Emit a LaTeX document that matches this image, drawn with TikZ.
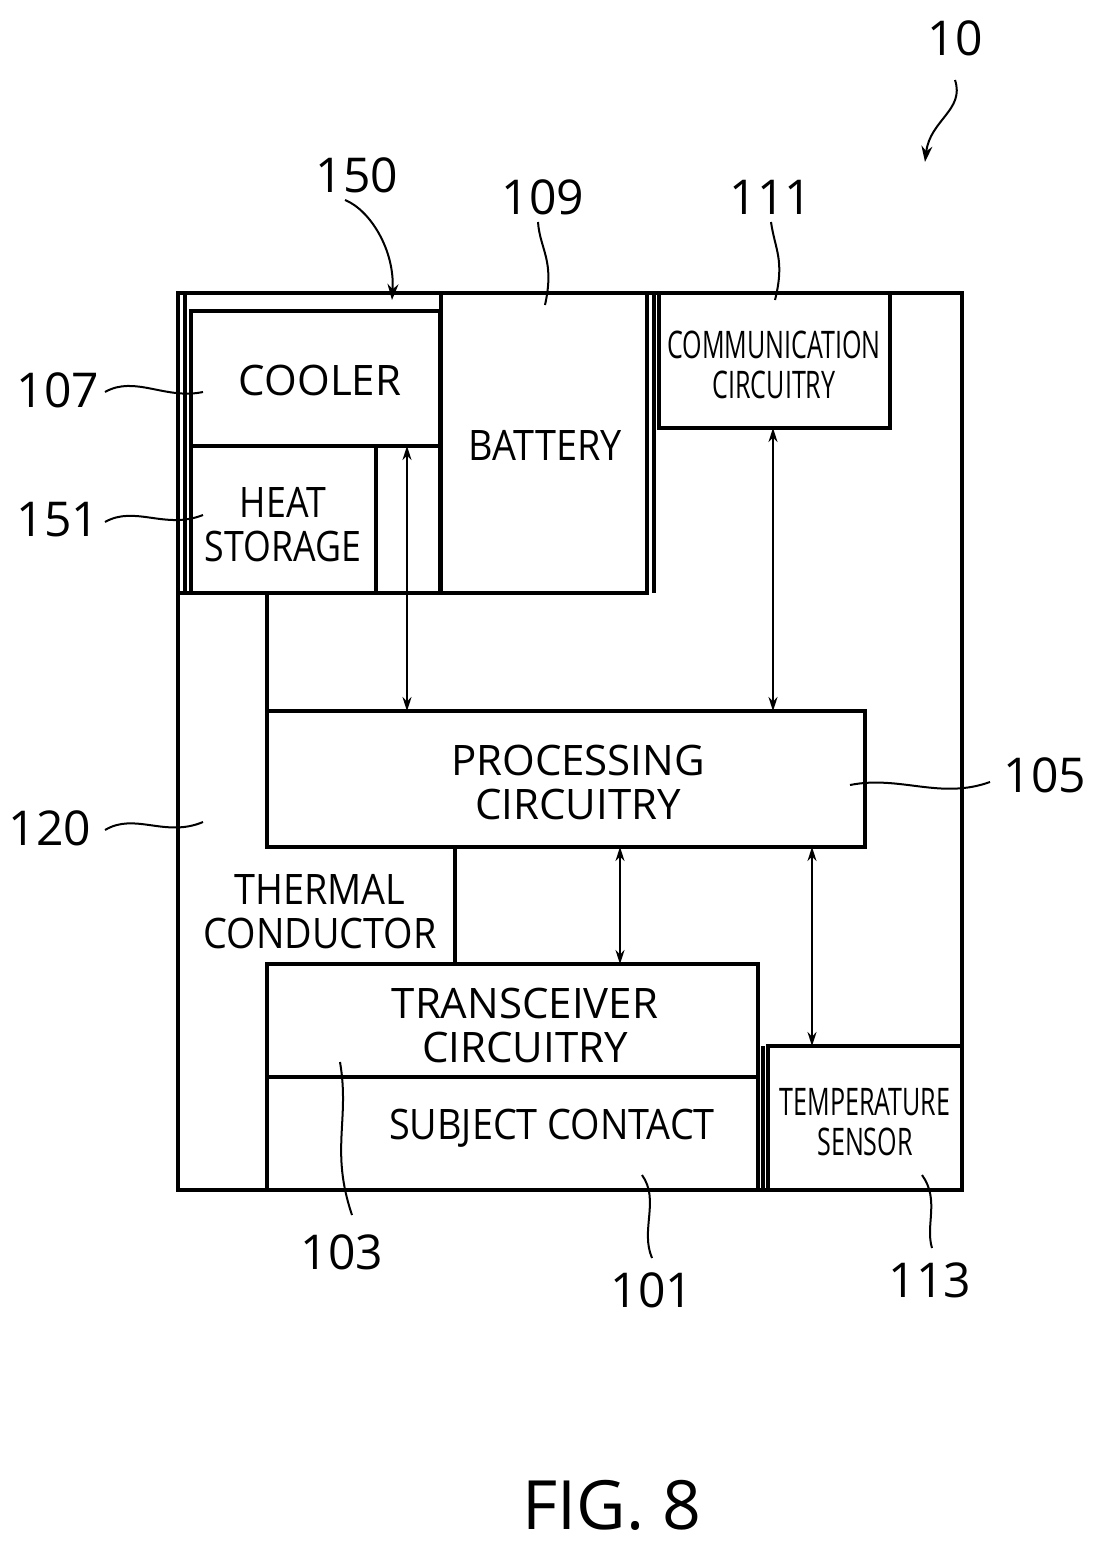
\documentclass[tikz,border=0pt]{standalone}
\usepackage{fontspec}
\usetikzlibrary{arrows.meta}
\setmainfont{Open Sans}
\begin{document}
\begin{tikzpicture}[x=1pt,y=-1pt,line width=3.5pt,
 lbl/.style={font=\fontsize{42}{44}\selectfont,inner sep=0pt},
 num/.style={font=\fontsize{48}{48}\selectfont},
 small/.style={font=\fontsize{38}{40}\selectfont,inner sep=0pt},
 lead/.style={line width=2pt},
 arr/.style={line width=2pt,{Stealth[length=14pt,width=9pt]}-{Stealth[length=14pt,width=9pt]}}]
\useasboundingbox (0,0) rectangle (1097,1558);
\draw (178,293) rectangle (962,1190);
\draw (185,293) -- (185,593);
\draw (191,311) rectangle (440,446);
\draw (191,446) rectangle (376,593);
\draw (440,446) -- (440,593);
\draw (441,293) rectangle (647,593);
\draw (654,293) -- (654,593);
\draw (659,293) rectangle (890,428);
\draw (178,593) -- (647,593);
\draw (267,593) -- (267,711);
\draw (267,711) rectangle (865,847);
\draw (455,847) -- (455,964);
\draw (267,964) rectangle (758,1077);
\draw (267,1077) rectangle (758,1190);
\draw (763,1046) -- (763,1190);
\draw (768,1046) rectangle (962,1190);
% texts
\node[lbl] (cool) at (320,380) {COOLER};
\node[lbl,align=center] (heat) at (283,525) {\scalebox{0.85}[1]{HEAT}\\\scalebox{0.85}[1]{STORAGE}};
\node[lbl] (bat) at (545,445) {\scalebox{0.9}[1]{BATTERY}};
\node[small,align=center] (comm) at (774,365) {\scalebox{0.66}[1]{COMMUNICATION}\\\scalebox{0.66}[1]{CIRCUITRY}};
\node[lbl,align=center] (proc) at (578,782) {PROCESSING\\CIRCUITRY};
\node[lbl,align=center] (therm) at (320,912) {\scalebox{0.9}[1]{THERMAL}\\\scalebox{0.9}[1]{CONDUCTOR}};
\node[lbl,align=center] (trans) at (525,1025) {TRANSCEIVER\\CIRCUITRY};
\node[lbl] (subj) at (552,1128) {\scalebox{0.9}[1]{SUBJECT CONTACT}};
\node[small,align=center] (temp) at (865,1122) {\scalebox{0.66}[1]{TEMPERATURE}\\\scalebox{0.66}[1]{SENSOR}};
% arrows
\coordinate (a1) at (407,446); \coordinate (a2) at (407,711);
\coordinate (b1) at (773,428); \coordinate (b2) at (773,711);
\coordinate (c1) at (620,847); \coordinate (c2) at (620,964);
\coordinate (d1) at (812,847); \coordinate (d2) at (812,1046);
\draw[arr] (a1) -- (a2);
\draw[arr] (b1) -- (b2);
\draw[arr] (c1) -- (c2);
\draw[arr] (d1) -- (d2);
% numbers
\node[num] (n10) at (955,38) {10};
\node[num] (n150) at (357,175) {150};
\node[num] (n109) at (543,197) {109};
\node[num] (n111) at (771,197) {111};
\node[num] (n107) at (58,390) {107};
\node[num] (n151) at (58,520) {151};
\node[num] (n120) at (50,828) {120};
\node[num] (n105) at (1045,775) {105};
\node[num] (n103) at (342,1252) {103};
\node[num] (n101) at (652,1290) {101};
\node[num] (n113) at (930,1280) {113};
\node[font=\fontsize{68}{68}\selectfont] (fig) at (612,1505) {FIG. 8};
% leaders
\draw[lead,-{Stealth[length=16pt,width=11pt]}] (955,80) .. controls (965,110) and (930,120) .. (925,162);
\draw[lead,-{Stealth[length=16pt,width=11pt]}] (345,200) .. controls (370,210) and (395,250) .. (392,300);
\draw[lead] (538,222) .. controls (540,250) and (555,260) .. (545,305);
\draw[lead] (771,222) .. controls (775,250) and (785,260) .. (775,300);
\draw[lead] (105,392) .. controls (135,375) and (165,400) .. (203,392);
\draw[lead] (105,522) .. controls (135,505) and (165,530) .. (203,515);
\draw[lead] (105,830) .. controls (135,812) and (165,838) .. (203,822);
\draw[lead] (850,785) .. controls (900,775) and (940,800) .. (990,782);
\draw[lead] (340,1062) .. controls (350,1120) and (330,1150) .. (352,1215);
\draw[lead] (642,1175) .. controls (660,1200) and (640,1230) .. (652,1258);
\draw[lead] (922,1175) .. controls (940,1200) and (925,1225) .. (932,1248);
\end{tikzpicture}
\end{document}
